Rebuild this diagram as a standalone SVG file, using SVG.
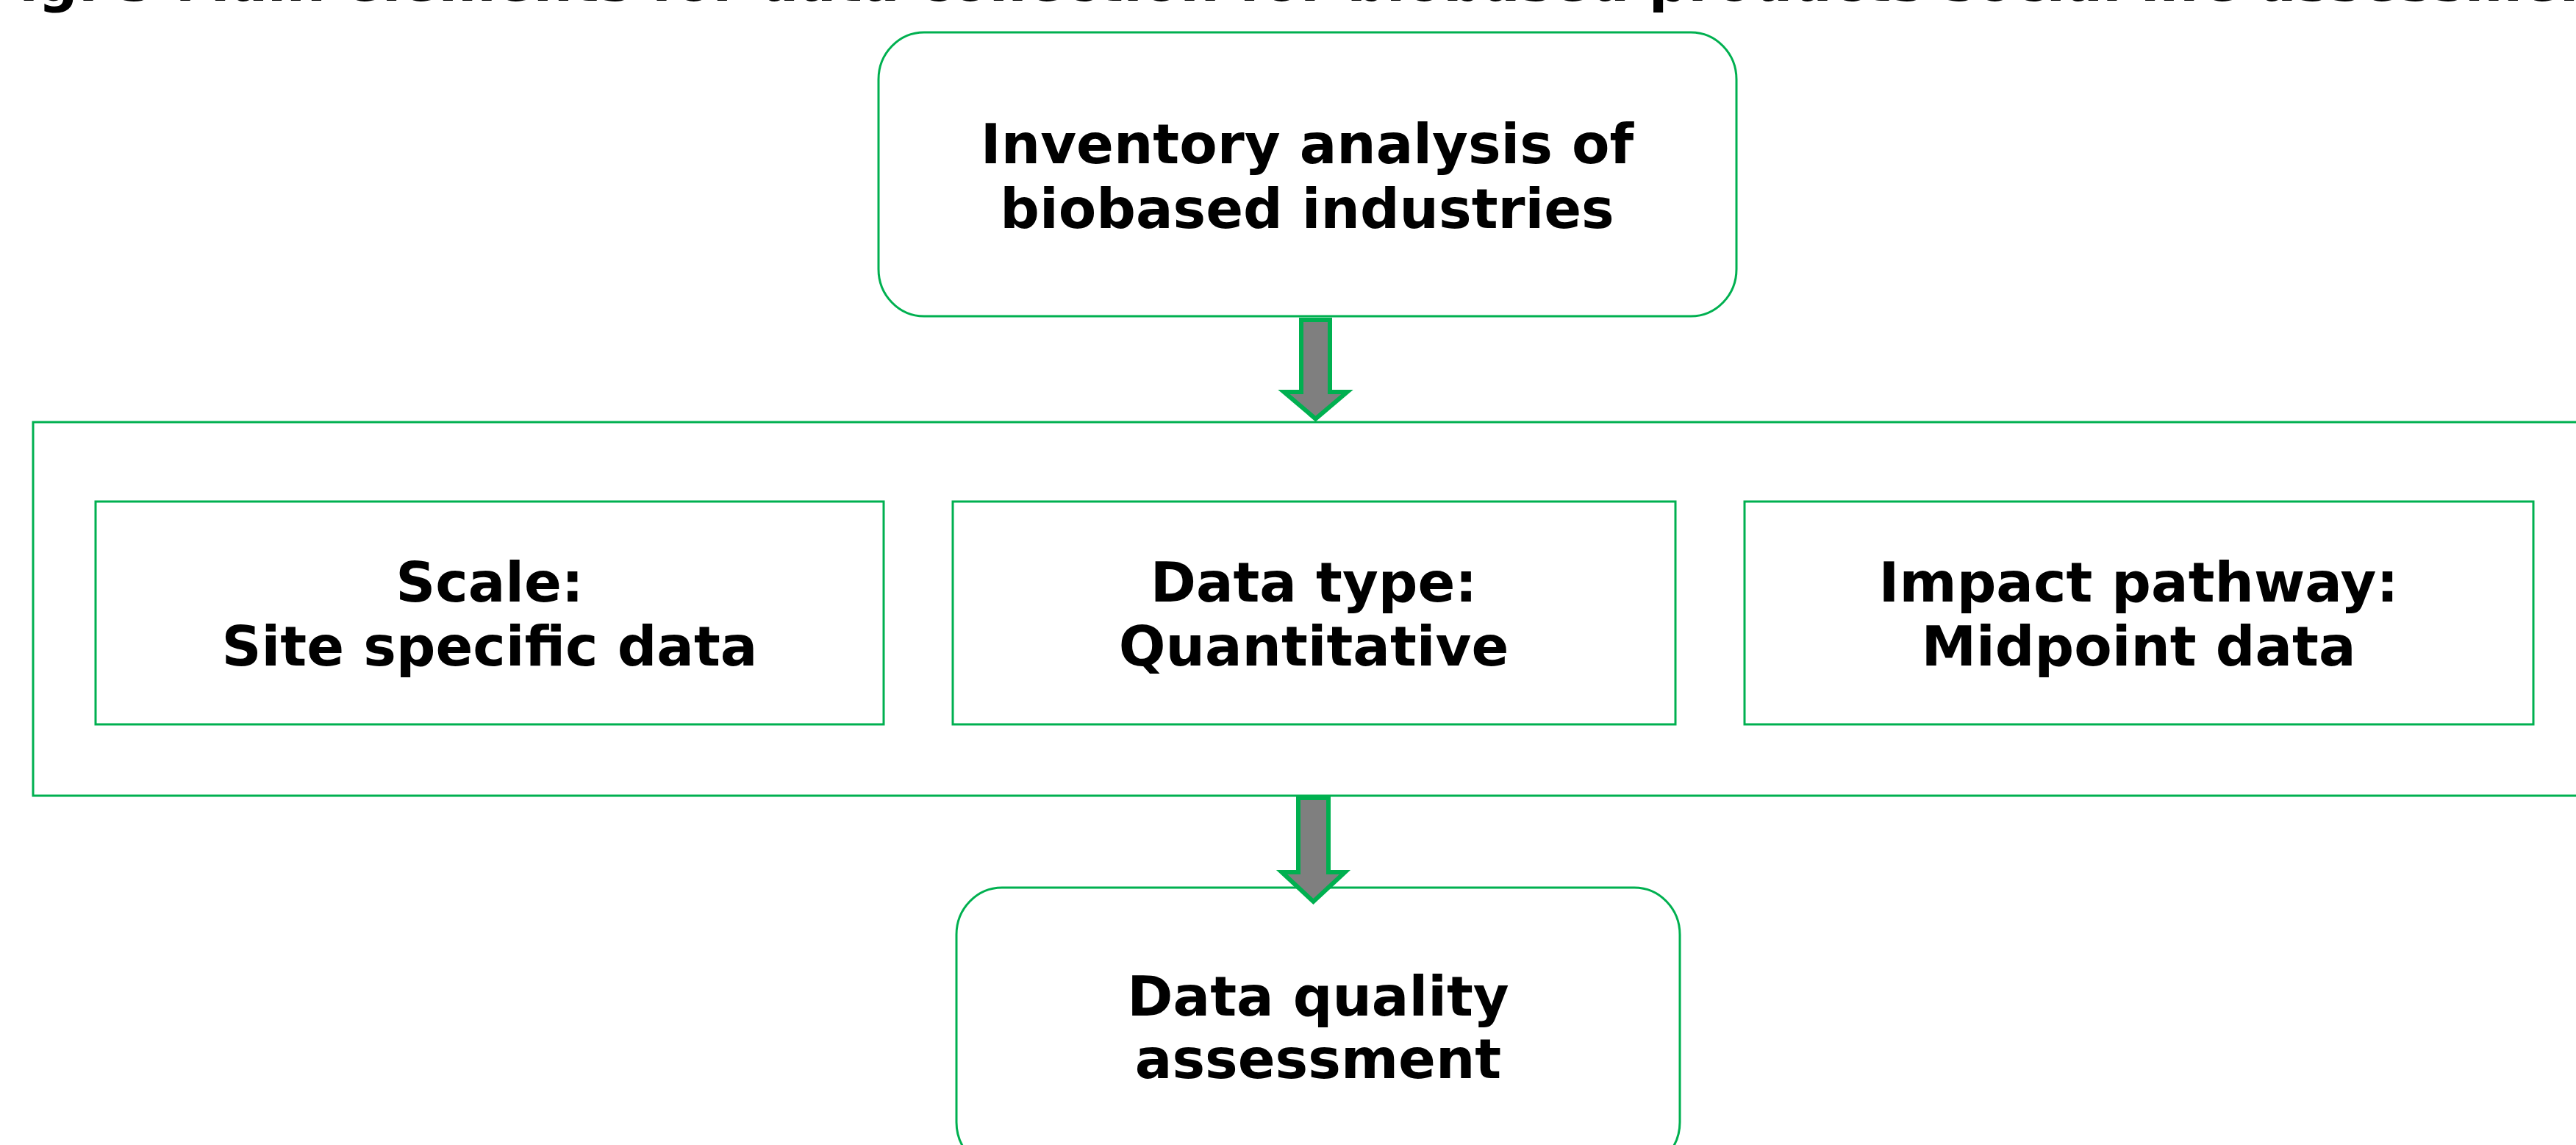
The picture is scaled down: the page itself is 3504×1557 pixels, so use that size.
<svg xmlns="http://www.w3.org/2000/svg" width="3504" height="1557" viewBox="0 0 3504 1557">
  <style>
    .box { fill: #ffffff; stroke: #00B050; stroke-width: 3; }
    .frame { fill: none; stroke: #00B050; stroke-width: 3; }
    .label { font-family: "DejaVu Sans", Verdana, sans-serif; font-weight: bold; font-size: 75px; fill: #000000; text-anchor: middle; }
    .title { font-family: "DejaVu Sans", Verdana, sans-serif; font-weight: bold; font-size: 75px; fill: #000000; }
    .flow { fill: #7F7F7F; stroke: #00B050; stroke-width: 6; stroke-linejoin: miter; }
  </style>

  <rect x="0" y="0" width="3504" height="1557" fill="#ffffff"/>

  <!-- caption line, running above the top edge -->
  <text class="title" x="-25" y="1">Fig. 3 Main elements for data collection for biobased products social life assessment</text>

  <!-- inventory step -->
  <g id="inventory">
    <rect class="box" x="1195" y="44" width="1167" height="386" rx="62" ry="64"/>
    <text class="label" x="1778" y="222">Inventory analysis of</text>
    <text class="label" x="1778" y="310">biobased industries</text>
  </g>

  <!-- data collection frame with its three criteria -->
  <g id="criteria">
    <rect class="frame" x="45" y="574" width="3490" height="508"/>
  </g>

  <g id="scale">
    <rect class="box" x="130" y="682" width="1072" height="303"/>
    <text class="label" x="666" y="818">Scale:</text>
    <text class="label" x="666" y="905">Site specific data</text>
  </g>

  <g id="data-type">
    <rect class="box" x="1296" y="682" width="983" height="303"/>
    <text class="label" x="1787" y="818">Data type:</text>
    <text class="label" x="1787" y="905">Quantitative</text>
  </g>

  <g id="impact-pathway">
    <rect class="box" x="2373" y="682" width="1073" height="303"/>
    <text class="label" x="2909" y="818">Impact pathway:</text>
    <text class="label" x="2909" y="905">Midpoint data</text>
  </g>

  <!-- assessment step -->
  <g id="assessment">
    <rect class="box" x="1301" y="1207" width="984" height="383" rx="62" ry="64"/>
    <text class="label" x="1793" y="1381">Data quality</text>
    <text class="label" x="1793" y="1466">assessment</text>
  </g>

  <!-- block arrows between the steps -->
  <g id="connectors">
    <polygon class="flow" points="1770,435 1809,435 1809,533 1832.5,533 1789.5,569.5 1746.5,533 1770,533"/>
    <polygon class="flow" points="1766,1085 1807,1085 1807,1186 1829.5,1186 1786.5,1226 1743.5,1186 1766,1186"/>
  </g>
</svg>
